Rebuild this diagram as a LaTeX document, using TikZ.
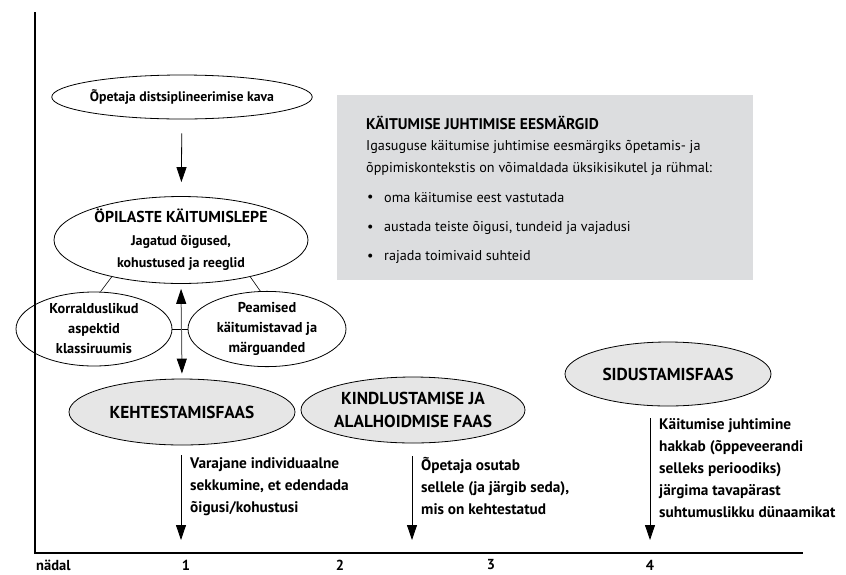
\documentclass[tikz,border=0pt]{standalone}
\usepackage{fontspec}
\setmainfont{PT Sans}
\usetikzlibrary{shapes.geometric,arrows.meta}
\definecolor{phase}{HTML}{E6E6E6}
\definecolor{boxgray}{HTML}{DCDDDF}
\definecolor{dgray}{HTML}{666666}
\newcommand{\fs}[2]{\fontsize{#1}{#2}\selectfont}
\begin{document}
\begin{tikzpicture}[x=1pt,y=-1pt,
  el/.style={draw,ellipse,line width=0.8pt,inner sep=0pt,align=center,
    font=\bfseries\fs{14}{21}},
  ph/.style={el,fill=phase,font=\bfseries\fs{17.3}{23}},
  arr/.style={line width=0.8pt,-{Triangle[length=15pt,width=10pt]}},
  darr/.style={line width=1pt,dgray,{Triangle[length=15pt,width=10pt,color=black]}-{Triangle[length=15pt,width=10pt,color=black]}},
  thin/.style={line width=0.6pt},
  note/.style={anchor=north west,align=left,inner sep=0pt,
    font=\bfseries\fs{15.3}{22}},
  wk/.style={font=\bfseries\fs{14.5}{16},inner sep=0pt},
  boxt/.style={anchor=west,inner sep=0pt,font=\fs{14.2}{16}},
  axis/.style={line width=2.8pt}
]
\useasboundingbox (0,0) rectangle (846,574);
% axes
\coordinate (top) at (35,12);
\coordinate (orig) at (35,553);
\coordinate (right) at (803,553);
\draw[axis] (top) -- (orig) -- (right);

% goals box
\node[fill=boxgray,minimum width=416pt,minimum height=185pt,inner sep=0pt] (box) at (545,187.5) {};
\node[boxt,font=\bfseries\fs{15.5}{16}] (bt) at (366,123) {KÄITUMISE JUHTIMISE EESMÄRGID};
\node[boxt] (b1) at (366,147) {Igasuguse käitumise juhtimise eesmärgiks õpetamis- ja};
\node[boxt] (b2) at (366,169) {õppimiskontekstis on võimaldada üksikisikutel ja rühmal:};
\node[boxt] (d1) at (367,198) {•};
\node[boxt] (i1) at (384,198) {oma käitumise eest vastutada};
\node[boxt] (d2) at (367,228) {•};
\node[boxt] (i2) at (384,228) {austada teiste õigusi, tundeid ja vajadusi};
\node[boxt] (d3) at (367,257) {•};
\node[boxt] (i3) at (384,257) {rajada toimivaid suhteid};

% ellipses
\node[el,minimum width=250pt,minimum height=44pt,font=\bfseries\fs{13.8}{20}] (kava) at (182,97) {Õpetaja distsiplineerimise kava};
\node[el,minimum width=254pt,minimum height=82pt,font=\bfseries\fs{14}{22.5}] (lepe) at (181,240) {{\fs{15.8}{22.5}ÖPILASTE KÄITUMISLEPE}\\Jagatud õigused,\\kohustused ja reeglid};
\node[el,minimum width=156pt,minimum height=74pt,font=\bfseries\fs{14.3}{20}] (korr) at (94,329) {Korralduslikud\\aspektid\\klassiruumis};
\node[el,minimum width=158pt,minimum height=74pt,font=\bfseries\fs{14.3}{20}] (peam) at (267,329) {Peamised\\käitumistavad ja\\märguanded};
\node[ph,minimum width=226pt,minimum height=66pt] (keht) at (182,412) {KEHTESTAMISFAAS};
\node[ph,minimum width=224pt,minimum height=66pt] (kind) at (413,410) {KINDLUSTAMISE JA\\ALALHOIDMISE FAAS};
\node[ph,minimum width=206pt,minimum height=64pt] (sid) at (668,374) {SIDUSTAMISFAAS};

% connectors
\draw[arr,shorten <=14pt,shorten >=14pt] (kava) -- (lepe);
\draw[thin] (lepe.-152) -- (korr.80);
\draw[thin] (lepe.-28) -- (peam.100);
\draw[thin] (korr.east) -- (peam.west);
\draw[darr,shorten <=5pt,shorten >=5pt] (lepe.south) -- (keht.north);

\coordinate (t1) at (181,540);
\coordinate (t2) at (412,540);
\coordinate (t3) at (650,540);
\draw[arr,shorten <=10pt] (keht.south -| t1) -- (t1);
\draw[arr,shorten <=13pt] (kind.south -| t2) -- (t2);
\draw[arr,shorten <=12pt] (sid.south -| t3) -- (t3);

% notes
\node[note] (n1) at (190,457) {Varajane individuaalne\\sekkumine, et edendada\\õigusi/kohustusi};
\node[note] (n2) at (421,457) {Õpetaja osutab\\sellele (ja järgib seda),\\mis on kehtestatud};
\node[note] (n3) at (659,418) {Käitumise juhtimine\\hakkab (õppeveerandi\\selleks perioodiks)\\järgima tavapärast\\suhtumuslikku dünaamikat};

% week labels
\node[wk,anchor=west] (nad) at (36,565) {nädal};
\node[wk] (w1) at (186,565) {1};
\node[wk] (w2) at (340,565) {2};
\node[wk] (w3) at (491,565) {3};
\node[wk] (w4) at (650,565) {4};
\end{tikzpicture}
\end{document}
